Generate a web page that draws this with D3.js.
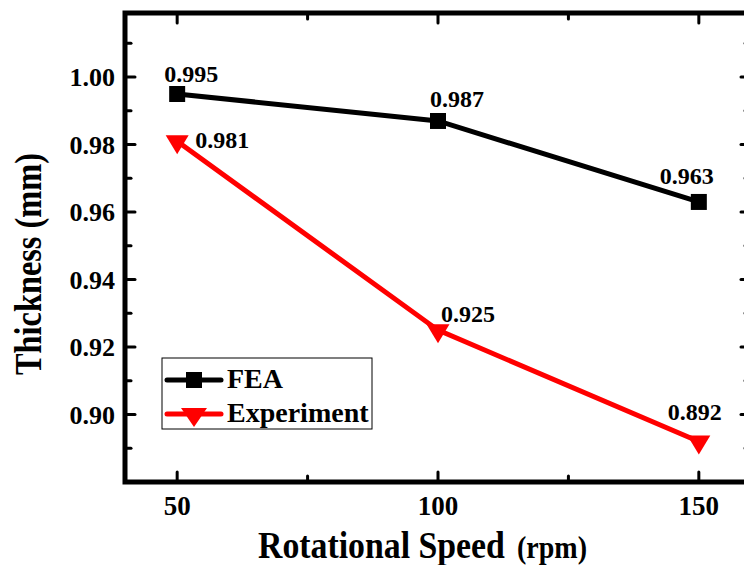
<!DOCTYPE html>
<html>
<head>
<meta charset="utf-8">
<script src="https://cdn.jsdelivr.net/npm/d3@7"></script>
<style>
  body { margin: 0; background: #fff; }
</style>
</head>
<body>
<div id="chart"></div>
<script>
// data
const speeds = [50, 100, 150];
const feaValues = [0.995, 0.987, 0.963];
const expValues = [0.981, 0.925, 0.892];
const xTicks = [50, 100, 150];
const yTicks = [0.90, 0.92, 0.94, 0.96, 0.98, 1.00];
const xMinor = [75, 125];
const yMinor = [0.89, 0.91, 0.93, 0.95, 0.97, 0.99, 1.01];

const width = 744, height = 565;
const margin = { top: 13, right: -7, bottom: 83, left: 125 };

const svg = d3.select('#chart').append('svg')
    .attr('width', width)
    .attr('height', height)
    .attr('font-family', "'Liberation Serif', 'Times New Roman', Times, serif")
    .attr('font-weight', 'bold');

const x = d3.scaleLinear().domain([40, 160]).range([margin.left, width - margin.right]);
const y = d3.scaleLinear().domain([0.88, 1.019]).range([height - margin.bottom, margin.top]);

const x0 = x.range()[0], x1 = x.range()[1];
const y0 = y.range()[0], y1 = y.range()[1];

// ticks point inward, on all four sides
const tickG = svg.append('g').attr('stroke', '#000').attr('stroke-width', 3).attr('stroke-linecap', 'round');
const hTick = (v, len) => {
    tickG.append('line').attr('x1', x(v)).attr('x2', x(v)).attr('y1', y0).attr('y2', y0 - len);
    tickG.append('line').attr('x1', x(v)).attr('x2', x(v)).attr('y1', y1).attr('y2', y1 + len);
};
const vTick = (v, len) => {
    tickG.append('line').attr('y1', y(v)).attr('y2', y(v)).attr('x1', x0).attr('x2', x0 + len);
    tickG.append('line').attr('y1', y(v)).attr('y2', y(v)).attr('x1', x1).attr('x2', x1 - len);
};
xTicks.forEach(v => hTick(v, 10));
xMinor.forEach(v => hTick(v, 6));
yTicks.forEach(v => vTick(v, 10));
yMinor.forEach(v => vTick(v, 6));

// frame
svg.append('rect')
    .attr('x', x0).attr('y', y1)
    .attr('width', x1 - x0).attr('height', y0 - y1)
    .attr('fill', 'none').attr('stroke', '#000').attr('stroke-width', 5);

// tick labels
svg.append('g').selectAll('text').data(yTicks).join('text')
    .attr('x', x0 - 10).attr('y', d => y(d) + 9)
    .attr('text-anchor', 'end')
    .attr('font-size', 26)
    .text(d => d.toFixed(2));

svg.append('g').selectAll('text').data(xTicks).join('text')
    .attr('x', d => x(d)).attr('y', y0 + 33)
    .attr('text-anchor', 'middle')
    .attr('font-size', 27)
    .text(d => d);

// squeeze a text horizontally so it spans the wanted length
const fitText = (sel, len, extra) => {
    const natural = sel.node().getComputedTextLength();
    sel.attr('transform', `${extra} scale(${len / natural},1)`);
};

// axis titles
fitText(svg.append('text').attr('font-size', 37).text('Rotational Speed'), 247, 'translate(258,558)');
fitText(svg.append('text').attr('font-size', 31).text('(rpm)'), 70, 'translate(517,558)');
fitText(svg.append('text').attr('font-size', 38).text('Thickness (mm)'), 222, 'translate(41,375) rotate(-90)');

// lines
const fea = speeds.map((s, i) => ({ x: s, y: feaValues[i] }));
const exp = speeds.map((s, i) => ({ x: s, y: expValues[i] }));
const line = d3.line().x(d => x(d.x)).y(d => y(d.y));

svg.append('path').datum(fea).attr('d', line)
    .attr('fill', 'none').attr('stroke', '#000').attr('stroke-width', 5);
svg.append('path').datum(exp).attr('d', line)
    .attr('fill', 'none').attr('stroke', '#ff0000').attr('stroke-width', 5);

const square = d3.symbol().type(d3.symbolSquare).size(256);
const tri = 'M-11.5,-6L11.5,-6L0,13Z';
const triWide = 'M-13,-6L13,-6L0,13Z';

svg.append('g').selectAll('path').data(fea).join('path')
    .attr('transform', d => `translate(${x(d.x)},${y(d.y)})`)
    .attr('d', square).attr('fill', '#000');
svg.append('g').selectAll('path').data(exp).join('path')
    .attr('transform', d => `translate(${x(d.x)},${y(d.y)})`)
    .attr('d', tri).attr('fill', '#ff0000');

// value labels (center x offset, baseline y offset)
const feaOffsets = [[14, -12], [19, -14], [-12, -18]];
const expOffsets = [[45, 7], [30, -8], [-4, -22]];
svg.append('g').selectAll('text').data(fea).join('text')
    .attr('x', (d, i) => x(d.x) + feaOffsets[i][0])
    .attr('y', (d, i) => y(d.y) + feaOffsets[i][1])
    .attr('text-anchor', 'middle')
    .attr('font-size', 24)
    .text(d => d.y.toFixed(3));
svg.append('g').selectAll('text').data(exp).join('text')
    .attr('x', (d, i) => x(d.x) + expOffsets[i][0])
    .attr('y', (d, i) => y(d.y) + expOffsets[i][1])
    .attr('text-anchor', 'middle')
    .attr('font-size', 24)
    .text(d => d.y.toFixed(3));

// legend
const lg = svg.append('g');
lg.append('rect').attr('x', 162).attr('y', 358).attr('width', 210).attr('height', 71)
    .attr('fill', '#fff').attr('stroke', '#000').attr('stroke-width', 1);
const legendItems = [
    { name: 'FEA', color: '#000', shape: 'square', y: 380 },
    { name: 'Experiment', color: '#ff0000', shape: 'tri', y: 414 }
];
legendItems.forEach(it => {
    lg.append('line').attr('x1', 167).attr('x2', 221).attr('y1', it.y).attr('y2', it.y)
        .attr('stroke', it.color).attr('stroke-width', 5).attr('stroke-linecap', 'round');
    lg.append('path').attr('transform', `translate(194,${it.y})`)
        .attr('d', it.shape === 'square' ? square : triWide).attr('fill', it.color);
    lg.append('text').attr('x', 227).attr('y', it.y + 8)
        .attr('font-size', 28).text(it.name);
});
</script>
</body>
</html>
